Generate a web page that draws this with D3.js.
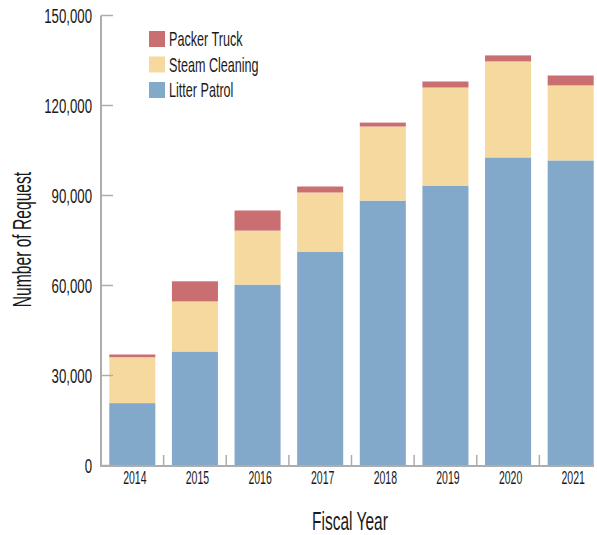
<!DOCTYPE html>
<html><head><meta charset="utf-8">
<script src="https://cdn.jsdelivr.net/npm/d3@7"></script>
<style>body{margin:0;background:#fff}svg{display:block}text{font-family:"Liberation Sans",Arial,sans-serif;fill:#1a1a1a}</style>
</head><body><svg id="c" width="597" height="535"></svg>
<script>
const years = ["2014","2015","2016","2017","2018","2019","2020","2021"];
const litterPatrol = [20800, 38000, 60300, 71300, 88300, 93300, 102700, 101700];
const steamCleaning = [15300, 16700, 18000, 19700, 24700, 32700, 32000, 25000];
const packerTruck = [900, 6700, 6700, 2000, 1300, 2000, 2000, 3300];
const seriesNames = ["Litter Patrol", "Steam Cleaning", "Packer Truck"];
const seriesColors = ["#83a9ca", "#f5d99f", "#c96e71"];
const yTicks = [0, 30000, 60000, 90000, 120000, 150000];

const svg = d3.select("#c");
const x = d3.scaleBand().domain(years).range([101, 602]).paddingInner(0.265).paddingOuter(0.1325);
const y = d3.scaleLinear().domain([0, 150000]).range([465.5, 15.5]);

const rows = years.map((yr, i) => ({year: yr, "Litter Patrol": litterPatrol[i], "Steam Cleaning": steamCleaning[i], "Packer Truck": packerTruck[i]}));
const stack = d3.stack().keys(seriesNames)(rows);

function label(g, tx, ty, str, size, anchor, sx, rot) {
  const t = g.append("g").attr("transform", `translate(${tx},${ty})` + (rot ? ` rotate(${rot})` : ""));
  t.append("text").attr("transform", `scale(${sx},1)`).attr("text-anchor", anchor).attr("font-size", size).text(str);
}

// bars
stack.forEach((s, k) => {
  svg.append("g").selectAll("rect").data(s).join("rect")
    .attr("x", d => x(d.data.year)).attr("width", x.bandwidth())
    .attr("y", d => y(d[1])).attr("height", d => y(d[0]) - y(d[1]))
    .attr("fill", seriesColors[k]);
});

const axisColor = "#adadad";
// y axis
svg.append("line").attr("x1", 101).attr("x2", 101).attr("y1", y(150000)).attr("y2", 467).attr("stroke", axisColor).attr("stroke-width", 2);
yTicks.forEach(v => {
  svg.append("line").attr("x1", 101).attr("x2", 113).attr("y1", y(v)).attr("y2", y(v)).attr("stroke", axisColor).attr("stroke-width", 1.5);
  label(svg, 92, y(v) + 7, d3.format(",")(v), 20.5, "end", 0.645);
});
// x axis
svg.append("line").attr("x1", 100).attr("x2", 594).attr("y1", 466).attr("y2", 466).attr("stroke", axisColor).attr("stroke-width", 2);
const step = x.step();
years.forEach((yr, i) => {
  if (i > 0) {
    const bx = x(yr) - (step - x.bandwidth()) / 2;
    svg.append("line").attr("x1", bx).attr("x2", bx).attr("y1", 455).attr("y2", 466).attr("stroke", axisColor).attr("stroke-width", 1.5);
  }
  label(svg, x(yr) + x.bandwidth() / 2 + 2.5, 484, yr, 17.5, "middle", 0.6);
});

// axis titles
label(svg, 350, 530, "Fiscal Year", 25, "middle", 0.62);
label(svg, 31, 239.5, "Number of Request", 25, "middle", 0.625, -90);

// legend
const legendOrder = [2, 1, 0];
legendOrder.forEach((k, j) => {
  const ly = 31 + j * 25.5;
  svg.append("rect").attr("x", 149).attr("y", ly).attr("width", 16).attr("height", 16).attr("fill", seriesColors[k]);
  label(svg, 169, ly + 15, seriesNames[k], 20, "start", 0.63);
});
</script></body></html>
